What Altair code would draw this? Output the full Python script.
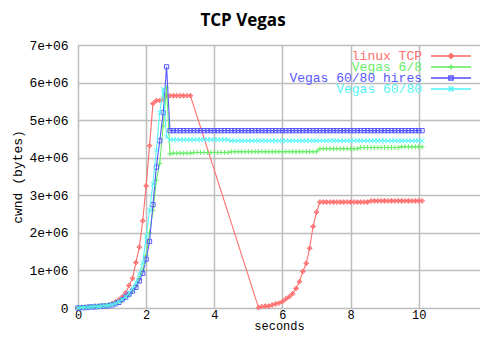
import altair as alt
import pandas as pd

# time grid (seconds), one sample every 0.1 s
T = [round(i * 0.1, 1) for i in range(102)]

# cwnd values in units of 1e6 bytes
linux_tcp = ([0.00, 0.01, 0.02, 0.03, 0.04, 0.05, 0.05, 0.06, 0.07, 0.09,
              0.12, 0.17, 0.22, 0.30, 0.40, 0.60, 0.79, 1.21, 1.62, 2.32,
              3.25, 4.32, 5.44, 5.52, 5.52, 5.55, 5.65, 5.65, 5.65, 5.65,
              5.65, 5.65, 5.65, 5.65]
             + [None] * 19
             + [0.01, 0.04, 0.05, 0.05, 0.08, 0.11, 0.13, 0.17, 0.24, 0.30,
                0.38, 0.52, 0.70, 0.97, 1.19, 1.59, 2.17, 2.55]
             + [2.82] * 15
             + [2.85] * 16)

vegas_6_8 = ([0.00, 0.01, 0.02, 0.03, 0.04, 0.05, 0.05, 0.06, 0.07, 0.08,
              0.10, 0.13, 0.17, 0.22, 0.28, 0.35, 0.45, 0.58, 0.78, 1.00,
              1.40, 2.00, 2.60, 3.40, 3.85, 4.85, 5.86, 4.10, 4.12, 4.12]
             + [4.12] * 4 + [4.14] * 11 + [4.16] * 26
             + [4.24] * 12 + [4.27] * 12 + [4.29] * 7)

vegas_hires = ([0.00, 0.01, 0.01, 0.02, 0.03, 0.03, 0.04, 0.05, 0.05, 0.06,
                0.08, 0.11, 0.15, 0.22, 0.29, 0.37, 0.45, 0.55, 0.72, 0.92,
                1.30, 1.77, 2.75, 3.75, 4.45, 5.20, 6.42, 4.72, 4.72, 4.72]
               + [4.72] * 72)

vegas_60_80 = ([0.00, 0.01, 0.02, 0.02, 0.03, 0.04, 0.04, 0.05, 0.06, 0.07,
                0.09, 0.12, 0.17, 0.23, 0.30, 0.40, 0.52, 0.68, 0.90, 1.20,
                1.90, 2.60, 3.30, 4.20, 5.20, 5.83, 4.55, 4.48, 4.48, 4.48]
               + [4.48] * 15 + [4.45] * 57)

names = ["linux TCP", "Vegas 6/8", "Vegas 60/80 hires", "Vegas 60/80"]
values = [linux_tcp, vegas_6_8, vegas_hires, vegas_60_80]
colors = ["#ff6e6e", "#66ee66", "#5858ff", "#55f5f5"]
shapes = ["M0,-1L1,0L0,1L-1,0ZM-1,0L1,0M0,-1L0,1",
          "M-1,0L1,0M0,-1L0,1",
          "square",
          "M-1,-1L1,1M-1,1L1,-1"]
sizes = [22, 26, 18, 22]

x_ticks = [0, 2, 4, 6, 8, 10, 12]
y_ticks = [0, 1, 2, 3, 4, 5, 6, 7]

MONO = "Liberation Mono"
W, H = 402, 263          # plot area; x-domain cut so 0..10 keeps its spacing
X_MAX = 11.8

xs = alt.Scale(domain=[0, X_MAX], nice=False)
ys = alt.Scale(domain=[0, 7], nice=False)

xaxis = alt.Axis(values=x_ticks, title="seconds", titleFont=MONO, titleFontSize=12,
                 titleFontWeight="normal", titleColor="black", titleY=21,
                 titleBaseline="alphabetic", labelFont=MONO, labelFontSize=12,
                 labelColor="black", labelPadding=10, labelBaseline="alphabetic",
                 ticks=False, domain=False,
                 grid=True, gridColor="#bdbdbd", gridWidth=1.5, labelFlush=False,
                 labelOverlap=False, labelBound=False, format="d")
yaxis = alt.Axis(values=y_ticks, title="cwnd (bytes)", titleFont=MONO, titleFontSize=13,
                 titleFontWeight="normal", titleColor="black", titleX=-61, titleY=H / 2,
                 titleAngle=270, titleAlign="center", titleBaseline="middle",
                 labelFont=MONO, labelFontSize=13, labelColor="black", labelPadding=10,
                 labelExpr="datum.value == 0 ? '0' : datum.value + 'e+06'",
                 ticks=False, domain=False, grid=True, gridColor="#bdbdbd",
                 gridWidth=1.5, labelFlush=False, labelOverlap=False)

layers = []
for name, vals, color, shape, size in zip(names, values, colors, shapes, sizes):
    df = pd.DataFrame({"t": T, "v": vals}).dropna()
    base = alt.Chart(df).encode(
        x=alt.X("t:Q", scale=xs, axis=xaxis),
        y=alt.Y("v:Q", scale=ys, axis=yaxis),
    )
    layers.append(base.mark_line(color=color, strokeWidth=1.1))
    layers.append(base.mark_point(shape=shape, color=color, size=size,
                                  strokeWidth=1, filled=False, opacity=1))

# legend (gnuplot style: label on left, sample on right)
for i, (name, color, shape, size) in enumerate(zip(names, colors, shapes, sizes)):
    yy = 11 + 11 * i
    ldf = pd.DataFrame({"label": [name]})
    lb = alt.Chart(ldf)
    layers.append(lb.mark_text(font=MONO, fontSize=13, align="right", baseline="middle",
                               color=color).encode(text="label:N", x=alt.value(344),
                                                   y=alt.value(yy)))
    layers.append(lb.mark_rule(color=color, strokeWidth=2, opacity=0.8).encode(
        x=alt.value(353), x2=alt.value(393), y=alt.value(yy)))
    layers.append(lb.mark_point(shape=shape, color=color, size=size, strokeWidth=1.5,
                                filled=False, opacity=1).encode(
        x=alt.value(373), y=alt.value(yy)))

title_df = pd.DataFrame({"s": ["TCP Vegas"]})
layers.append(alt.Chart(title_df).mark_text(font="Open Sans", fontSize=17, fontWeight="bold",
                                            align="center", baseline="middle",
                                            color="black").encode(
    text="s:N", x=alt.value(165), y=alt.value(-24)))

chart = alt.layer(*layers).properties(
    width=W, height=H,
    autosize=alt.AutoSizeParams(type="none"),
    padding={"left": 70, "top": 37, "right": 0, "bottom": 24},
).configure_view(stroke="#222222", strokeWidth=1.5).configure(background="white")

chart.save("out.html", embed_options={"renderer": "svg", "actions": False})
